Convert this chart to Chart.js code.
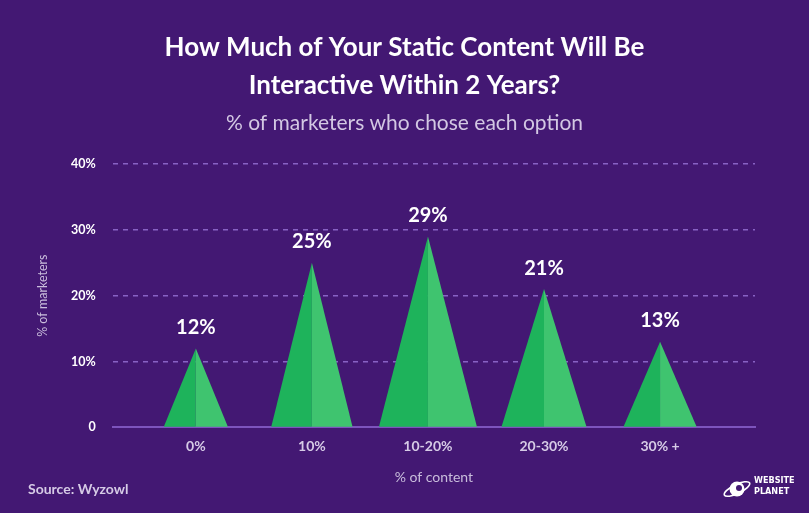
<!DOCTYPE html>
<html>
<head>
<meta charset="utf-8">
<script src="https://cdn.jsdelivr.net/npm/chart.js@4/dist/chart.umd.min.js"></script>
<style>
  html, body { margin: 0; padding: 0; background: #431873; }
  #wrap { width: 809px; height: 513px; position: relative; }
</style>
</head>
<body>
<div id="wrap"><canvas id="c" width="809" height="513"></canvas></div>
<script>
// ---- data ----
const categories = ['0%', '10%', '10-20%', '20-30%', '30% +'];
const shares = [12, 25, 29, 21, 13];
const yTicks = [0, 10, 20, 30, 40];
const titleLines = ['How Much of Your Static Content Will Be', 'Interactive Within 2 Years?'];
const subtitleText = '% of marketers who chose each option';

// ---- styles ----
const BG = '#431873';
const DARK_GREEN = '#1eb35b';
const LIGHT_GREEN = '#3fc46f';
const GRID = '#8862c4';
const BASELINE = '#7d54bd';
const triangleHalfWidth = [0.276, 0.35, 0.422, 0.366, 0.315]; // in category units

const bgPlugin = {
  id: 'bg',
  beforeDraw(chart) {
    const ctx = chart.ctx;
    ctx.save();
    ctx.fillStyle = BG;
    ctx.fillRect(0, 0, chart.width, chart.height);
    ctx.restore();
  }
};

const headerPlugin = {
  id: 'header',
  afterDraw(chart) {
    const ctx = chart.ctx;
    const cx = chart.width / 2;
    ctx.save();
    ctx.textAlign = 'center';
    ctx.textBaseline = 'middle';
    ctx.fillStyle = '#ffffff';
    ctx.font = 'bold 26px Lato';
    ctx.fillText(titleLines[0], cx, 48);
    ctx.fillText(titleLines[1], cx, 86);
    ctx.fillStyle = '#d3c8e3';
    ctx.font = '21px Lato';
    ctx.fillText(subtitleText, cx, 123);
    ctx.restore();
  }
};

const trianglePlugin = {
  id: 'triangles',
  beforeDatasetDraw(chart, args) {
    const meta = args.meta;
    const xs = chart.scales.x;
    const ctx = chart.ctx;
    ctx.save();
    meta.data.forEach((el, i) => {
      const l = xs.getPixelForValue(i - triangleHalfWidth[i]);
      const r = xs.getPixelForValue(i + triangleHalfWidth[i]);
      const base = el.base;
      ctx.fillStyle = DARK_GREEN;
      ctx.beginPath();
      ctx.moveTo(l, base); ctx.lineTo(el.x, el.y); ctx.lineTo(el.x, base); ctx.closePath();
      ctx.fill();
      ctx.fillStyle = LIGHT_GREEN;
      ctx.beginPath();
      ctx.moveTo(el.x, base); ctx.lineTo(el.x, el.y); ctx.lineTo(r, base); ctx.closePath();
      ctx.fill();
    });
    ctx.restore();
    return false;
  },
  afterDatasetsDraw(chart) {
    const meta = chart.getDatasetMeta(0);
    const ctx = chart.ctx;
    ctx.save();
    ctx.fillStyle = '#ffffff';
    ctx.font = 'bold 20px Lato';
    ctx.textAlign = 'center';
    ctx.textBaseline = 'middle';
    meta.data.forEach((el, i) => {
      ctx.fillText(shares[i] + '%', el.x, el.y - 21);
    });
    ctx.restore();
  }
};

const footerPlugin = {
  id: 'footer',
  afterDraw(chart) {
    const ctx = chart.ctx;
    ctx.save();
    ctx.fillStyle = '#d6cbe6';
    ctx.font = 'bold 14px Lato';
    ctx.textAlign = 'left';
    ctx.textBaseline = 'middle';
    ctx.fillText('Source: Wyzowl', 28, 489);
    // logo
    ctx.fillStyle = '#ffffff';
    ctx.strokeStyle = '#ffffff';
    ctx.beginPath();
    ctx.arc(737, 489, 7.5, 0, Math.PI * 2);
    ctx.fill();
    ctx.lineWidth = 1.6;
    ctx.beginPath();
    ctx.ellipse(737, 489, 14, 4.5, -0.45, 0, Math.PI * 2);
    ctx.stroke();
    ctx.fillStyle = BG;
    ctx.beginPath();
    ctx.arc(739, 488, 3, 0, Math.PI * 2);
    ctx.fill();
    ctx.fillStyle = '#ffffff';
    ctx.font = 'bold 9px "DejaVu Sans Condensed"';
    ctx.fillText('WEBSITE', 754, 481);
    ctx.fillText('PLANET', 754, 492);
    ctx.restore();
  }
};

new Chart(document.getElementById('c'), {
  type: 'bar',
  data: {
    datasets: [{
      data: shares.map((v, i) => ({ x: i, y: v })),
      backgroundColor: DARK_GREEN
    }]
  },
  options: {
    responsive: false,
    animation: false,
    events: [],
    layout: { padding: { left: 35, right: 54, top: 164, bottom: 27 } },
    plugins: {
      legend: { display: false },
      tooltip: { enabled: false },
      title: { display: false },
      subtitle: { display: false }
    },
    scales: {
      x: {
        type: 'linear',
        offset: false,
        min: -0.716,
        max: 4.818,
        afterBuildTicks(scale) { scale.ticks = categories.map((c, i) => ({ value: i })); },
        ticks: {
          callback: (v) => categories[v] ?? '',
          color: '#d6cbe6',
          font: { family: 'Lato', size: 14, weight: 'bold' },
          padding: 11,
          autoSkip: false,
          maxRotation: 0
        },
        grid: { display: false, drawTicks: false, offset: false },
        border: { display: true, color: BASELINE, width: 2 },
        title: {
          display: true,
          text: '% of content',
          color: '#c9bddc',
          font: { family: 'Lato', size: 14, weight: 'normal' },
          padding: { top: 3, bottom: 0 }
        }
      },
      y: {
        min: 0,
        max: 40,
        afterBuildTicks(scale) { scale.ticks = yTicks.map(v => ({ value: v })); },
        ticks: {
          callback: (v) => v === 0 ? '0' : v + '%',
          color: '#ffffff',
          font: { family: 'Lato', size: 12.5, weight: 'bold' },
          padding: 17
        },
        grid: {
          drawTicks: false,
          color: (ctx) => ctx.tick && ctx.tick.value === 0 ? 'rgba(0,0,0,0)' : GRID,
          lineWidth: 1.5
        },
        border: { display: false, dash: [5, 5] },
        title: {
          display: true,
          text: '% of marketers',
          color: '#c9bddc',
          font: { family: 'Lato', size: 12.5, weight: 'normal' },
          padding: { top: 0, bottom: 4 }
        }
      }
    }
  },
  plugins: [bgPlugin, trianglePlugin, headerPlugin, footerPlugin]
});
</script>
</body>
</html>
